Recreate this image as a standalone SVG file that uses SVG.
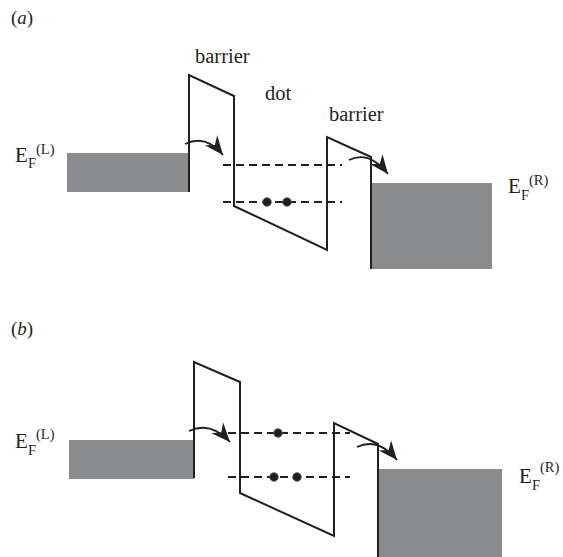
<svg xmlns="http://www.w3.org/2000/svg" width="563" height="557" viewBox="0 0 563 557">
<style>
text{font-family:"Liberation Serif","Times New Roman",serif;fill:#231f20}
.lbl{font-size:20.5px}
.big{font-size:21px}
.sm{font-size:14.5px}
.pl{font-size:19px}
.band{stroke:#231f20;stroke-width:2;fill:none;stroke-linejoin:miter}
.lead{fill:#8a8b8d}
.lvl{stroke:#231f20;stroke-width:2;stroke-dasharray:8 5;fill:none}
.arr{stroke:#231f20;stroke-width:1.8;fill:none;marker-end:url(#ah)}
.e{fill:#231f20;stroke:#555;stroke-width:0.8}
</style>
<defs>
<marker id="ah" markerUnits="userSpaceOnUse" markerWidth="26" markerHeight="22" viewBox="-20 -11 26 22" refX="0" refY="0" orient="auto">
<path d="M0,0 L-19,-8 L-13,0 L-19,8 Z" fill="#231f20"/>
</marker>
</defs>

<g id="panel-a">
<text class="pl" x="11" y="24">(<tspan font-style="italic">a</tspan>)</text>
<g id="lead-L-a"><rect class="lead" x="67" y="153" width="122" height="39"/></g>
<g id="lead-R-a"><rect class="lead" x="371" y="183" width="121" height="86"/></g>
<g id="band-a"><path class="band" d="M189,192 L189,75 L234,96 L234,206 L327,250 L327,137 L371,157 L371,269"/></g>
<g id="levels-a">
<line class="lvl" x1="223" y1="165" x2="342" y2="165"/>
<line class="lvl" x1="223" y1="202" x2="342" y2="202"/>
</g>
<g id="electrons-a">
<circle class="e" cx="267" cy="202" r="4.3"/>
<circle class="e" cx="287" cy="202" r="4.3"/>
</g>
<g id="labels-a">
<text class="lbl" x="195" y="63">barrier</text>
<text class="lbl" x="265" y="100">dot</text>
<text class="lbl" x="329" y="121">barrier</text>
<text class="big" x="15" y="162">E</text><text class="sm" x="28" y="168">F</text><text class="sm" x="36" y="154">(L)</text>
<text class="big" x="508" y="193">E</text><text class="sm" x="521" y="200">F</text><text class="sm" x="529" y="185">(R)</text>
</g>
</g>

<g id="panel-b">
<text class="pl" x="11" y="335">(<tspan font-style="italic">b</tspan>)</text>
<g id="lead-L-b"><rect class="lead" x="69" y="440" width="125" height="39"/></g>
<g id="lead-R-b"><rect class="lead" x="378" y="469" width="124" height="88"/></g>
<g id="band-b"><path class="band" d="M194,478 L194,362 L240,382 L240,493 L334,536 L334,423 L378,444 L378,557"/></g>
<g id="levels-b">
<line class="lvl" x1="228" y1="433" x2="350" y2="433"/>
<line class="lvl" x1="228" y1="477" x2="350" y2="477"/>
</g>
<g id="electrons-b">
<circle class="e" cx="278" cy="433" r="4.3"/>
<circle class="e" cx="274" cy="477" r="4.3"/>
<circle class="e" cx="297" cy="477" r="4.3"/>
</g>
<g id="labels-b">
<text class="big" x="15" y="448">E</text><text class="sm" x="28" y="455">F</text><text class="sm" x="36" y="439">(L)</text>
<text class="big" x="519" y="483">E</text><text class="sm" x="532" y="490">F</text><text class="sm" x="540" y="472">(R)</text>
</g>
</g>

<g id="connectors">
<path class="arr" d="M185,144 Q206,134 223,155"/>
<path class="arr" d="M349,160 Q369,150 388,174"/>
<path class="arr" d="M189,431 Q211,421 230,442"/>
<path class="arr" d="M357,447 Q378,437 397,460"/>
</g>
</svg>
